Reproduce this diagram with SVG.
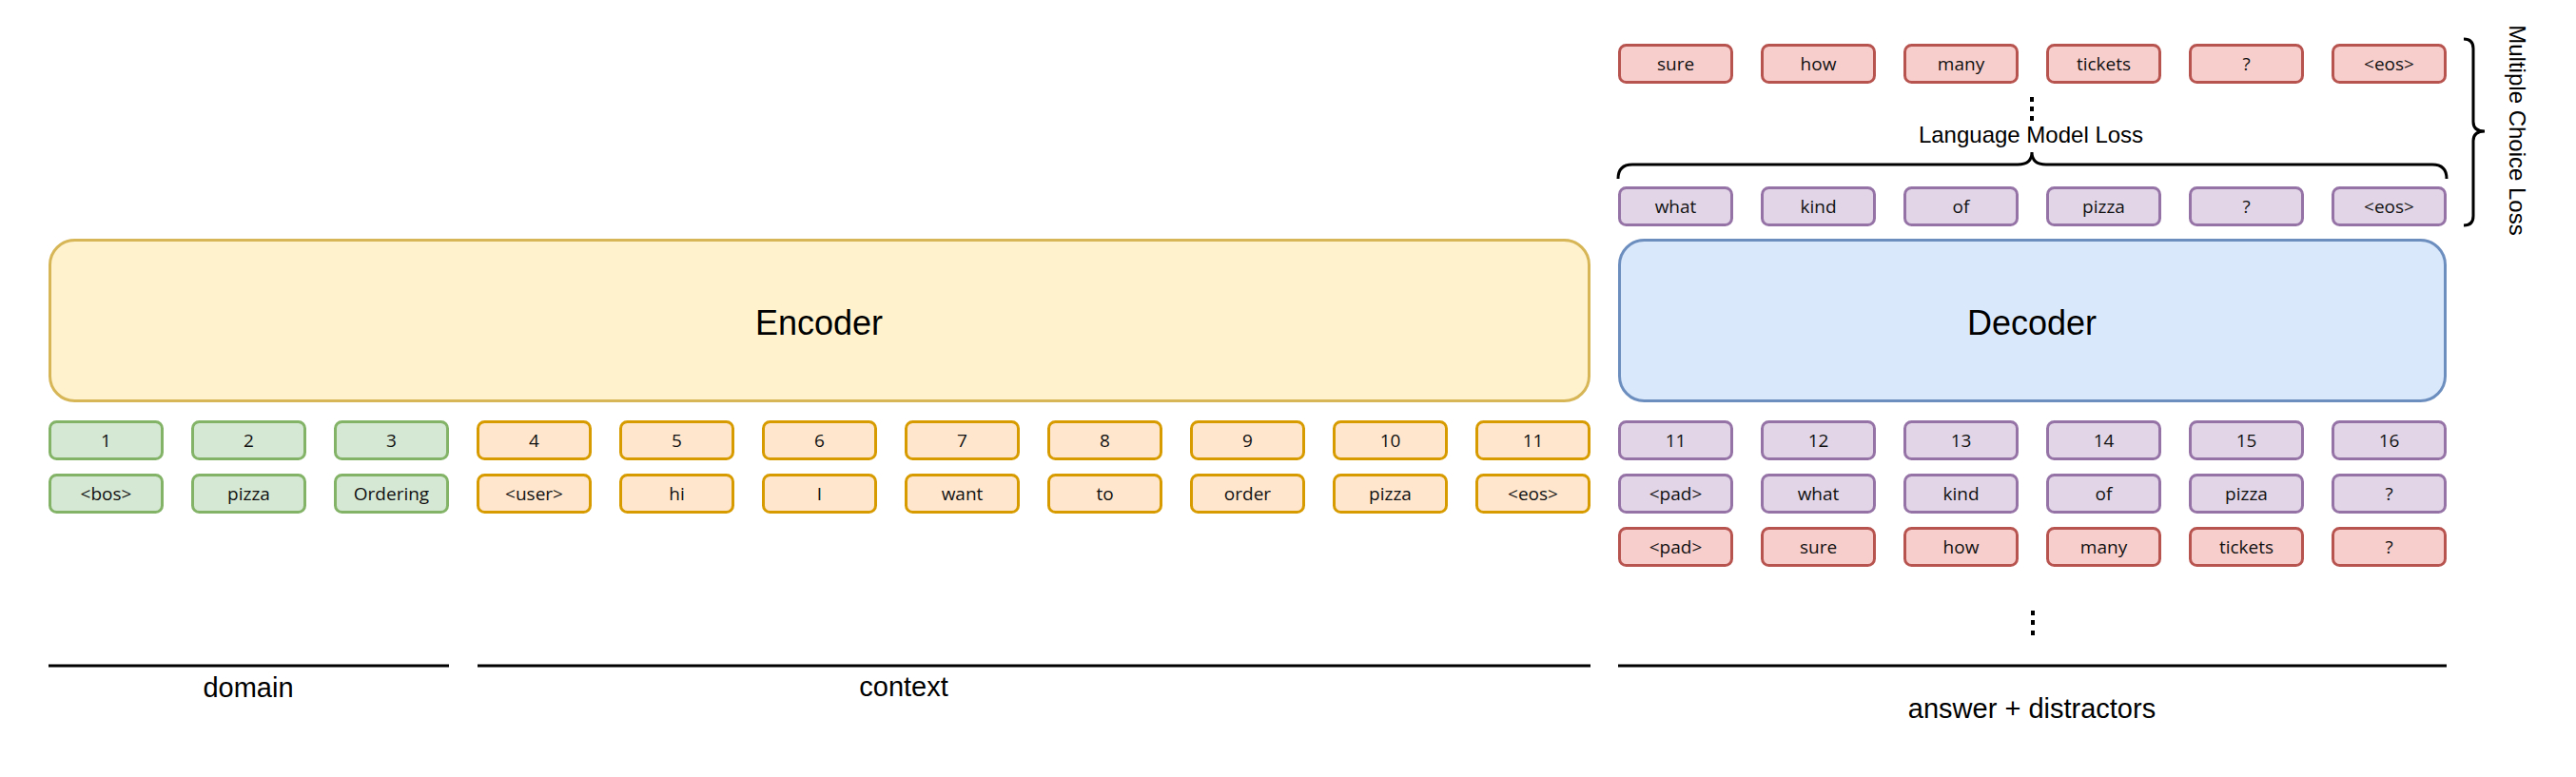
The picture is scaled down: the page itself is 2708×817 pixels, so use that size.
<svg xmlns="http://www.w3.org/2000/svg" width="2708" height="817" viewBox="0 0 2708 817">
<style>
.t{font-family:"Open Sans","DejaVu Sans",sans-serif;font-size:19px;fill:#111;text-anchor:middle}
.L{font-family:"Liberation Sans",Arial,sans-serif;fill:#000;text-anchor:middle}
.g{fill:#d5e8d4;stroke:#82b366;stroke-width:3}
.o{fill:#ffe6cc;stroke:#d79b00;stroke-width:3}
.p{fill:#e1d5e7;stroke:#9673a6;stroke-width:3}
.r{fill:#f8cecc;stroke:#b85450;stroke-width:3}
.ln{fill:none;stroke:#000;stroke-width:3}
</style>
<rect width="2708" height="817" fill="#fff"/>
<g id="encoder"><rect x="52.5" y="252.5" width="1618" height="169" rx="26" fill="#fff2cc" stroke="#d6b656" stroke-width="3"/><text class="L" x="861" y="352" font-size="36">Encoder</text></g>
<g id="decoder"><rect x="1702.5" y="252.5" width="868" height="169" rx="26" fill="#dae8fc" stroke="#6c8ebf" stroke-width="3"/><text class="L" x="2136" y="352" font-size="36">Decoder</text></g>

<g id="enc-pos">
<g id="e1"><rect class="g" x="52.5" y="443.5" width="118" height="39" rx="7"/><text class="t" x="111.5" y="470">1</text></g>
<g id="e2"><rect class="g" x="202.5" y="443.5" width="118" height="39" rx="7"/><text class="t" x="261.5" y="470">2</text></g>
<g id="e3"><rect class="g" x="352.5" y="443.5" width="118" height="39" rx="7"/><text class="t" x="411.5" y="470">3</text></g>
<g id="e4"><rect class="o" x="502.5" y="443.5" width="118" height="39" rx="7"/><text class="t" x="561.5" y="470">4</text></g>
<g id="e5"><rect class="o" x="652.5" y="443.5" width="118" height="39" rx="7"/><text class="t" x="711.5" y="470">5</text></g>
<g id="e6"><rect class="o" x="802.5" y="443.5" width="118" height="39" rx="7"/><text class="t" x="861.5" y="470">6</text></g>
<g id="e7"><rect class="o" x="952.5" y="443.5" width="118" height="39" rx="7"/><text class="t" x="1011.5" y="470">7</text></g>
<g id="e8"><rect class="o" x="1102.5" y="443.5" width="118" height="39" rx="7"/><text class="t" x="1161.5" y="470">8</text></g>
<g id="e9"><rect class="o" x="1252.5" y="443.5" width="118" height="39" rx="7"/><text class="t" x="1311.5" y="470">9</text></g>
<g id="e10"><rect class="o" x="1402.5" y="443.5" width="118" height="39" rx="7"/><text class="t" x="1461.5" y="470">10</text></g>
<g id="e11"><rect class="o" x="1552.5" y="443.5" width="118" height="39" rx="7"/><text class="t" x="1611.5" y="470">11</text></g>
</g>
<g id="enc-tok">
<g id="w1"><rect class="g" x="52.5" y="499.5" width="118" height="39" rx="7"/><text class="t" x="111.5" y="526">&lt;bos&gt;</text></g>
<g id="w2"><rect class="g" x="202.5" y="499.5" width="118" height="39" rx="7"/><text class="t" x="261.5" y="526">pizza</text></g>
<g id="w3"><rect class="g" x="352.5" y="499.5" width="118" height="39" rx="7"/><text class="t" x="411.5" y="526">Ordering</text></g>
<g id="w4"><rect class="o" x="502.5" y="499.5" width="118" height="39" rx="7"/><text class="t" x="561.5" y="526">&lt;user&gt;</text></g>
<g id="w5"><rect class="o" x="652.5" y="499.5" width="118" height="39" rx="7"/><text class="t" x="711.5" y="526">hi</text></g>
<g id="w6"><rect class="o" x="802.5" y="499.5" width="118" height="39" rx="7"/><text class="t" x="861.5" y="526">I</text></g>
<g id="w7"><rect class="o" x="952.5" y="499.5" width="118" height="39" rx="7"/><text class="t" x="1011.5" y="526">want</text></g>
<g id="w8"><rect class="o" x="1102.5" y="499.5" width="118" height="39" rx="7"/><text class="t" x="1161.5" y="526">to</text></g>
<g id="w9"><rect class="o" x="1252.5" y="499.5" width="118" height="39" rx="7"/><text class="t" x="1311.5" y="526">order</text></g>
<g id="w10"><rect class="o" x="1402.5" y="499.5" width="118" height="39" rx="7"/><text class="t" x="1461.5" y="526">pizza</text></g>
<g id="w11"><rect class="o" x="1552.5" y="499.5" width="118" height="39" rx="7"/><text class="t" x="1611.5" y="526">&lt;eos&gt;</text></g>
</g>

<g id="dec-pos">
<g id="d11"><rect class="p" x="1702.5" y="443.5" width="118" height="39" rx="7"/><text class="t" x="1761.5" y="470">11</text></g>
<g id="d12"><rect class="p" x="1852.5" y="443.5" width="118" height="39" rx="7"/><text class="t" x="1911.5" y="470">12</text></g>
<g id="d13"><rect class="p" x="2002.5" y="443.5" width="118" height="39" rx="7"/><text class="t" x="2061.5" y="470">13</text></g>
<g id="d14"><rect class="p" x="2152.5" y="443.5" width="118" height="39" rx="7"/><text class="t" x="2211.5" y="470">14</text></g>
<g id="d15"><rect class="p" x="2302.5" y="443.5" width="118" height="39" rx="7"/><text class="t" x="2361.5" y="470">15</text></g>
<g id="d16"><rect class="p" x="2452.5" y="443.5" width="118" height="39" rx="7"/><text class="t" x="2511.5" y="470">16</text></g>
</g>
<g id="dec-answer">
<g id="a1"><rect class="p" x="1702.5" y="499.5" width="118" height="39" rx="7"/><text class="t" x="1761.5" y="526">&lt;pad&gt;</text></g>
<g id="a2"><rect class="p" x="1852.5" y="499.5" width="118" height="39" rx="7"/><text class="t" x="1911.5" y="526">what</text></g>
<g id="a3"><rect class="p" x="2002.5" y="499.5" width="118" height="39" rx="7"/><text class="t" x="2061.5" y="526">kind</text></g>
<g id="a4"><rect class="p" x="2152.5" y="499.5" width="118" height="39" rx="7"/><text class="t" x="2211.5" y="526">of</text></g>
<g id="a5"><rect class="p" x="2302.5" y="499.5" width="118" height="39" rx="7"/><text class="t" x="2361.5" y="526">pizza</text></g>
<g id="a6"><rect class="p" x="2452.5" y="499.5" width="118" height="39" rx="7"/><text class="t" x="2511.5" y="526">?</text></g>
</g>
<g id="dec-distractor">
<g id="x1"><rect class="r" x="1702.5" y="555.5" width="118" height="39" rx="7"/><text class="t" x="1761.5" y="582">&lt;pad&gt;</text></g>
<g id="x2"><rect class="r" x="1852.5" y="555.5" width="118" height="39" rx="7"/><text class="t" x="1911.5" y="582">sure</text></g>
<g id="x3"><rect class="r" x="2002.5" y="555.5" width="118" height="39" rx="7"/><text class="t" x="2061.5" y="582">how</text></g>
<g id="x4"><rect class="r" x="2152.5" y="555.5" width="118" height="39" rx="7"/><text class="t" x="2211.5" y="582">many</text></g>
<g id="x5"><rect class="r" x="2302.5" y="555.5" width="118" height="39" rx="7"/><text class="t" x="2361.5" y="582">tickets</text></g>
<g id="x6"><rect class="r" x="2452.5" y="555.5" width="118" height="39" rx="7"/><text class="t" x="2511.5" y="582">?</text></g>
</g>

<g id="out-answer">
<g id="oa1"><rect class="p" x="1702.5" y="197.5" width="118" height="39" rx="7"/><text class="t" x="1761.5" y="224">what</text></g>
<g id="oa2"><rect class="p" x="1852.5" y="197.5" width="118" height="39" rx="7"/><text class="t" x="1911.5" y="224">kind</text></g>
<g id="oa3"><rect class="p" x="2002.5" y="197.5" width="118" height="39" rx="7"/><text class="t" x="2061.5" y="224">of</text></g>
<g id="oa4"><rect class="p" x="2152.5" y="197.5" width="118" height="39" rx="7"/><text class="t" x="2211.5" y="224">pizza</text></g>
<g id="oa5"><rect class="p" x="2302.5" y="197.5" width="118" height="39" rx="7"/><text class="t" x="2361.5" y="224">?</text></g>
<g id="oa6"><rect class="p" x="2452.5" y="197.5" width="118" height="39" rx="7"/><text class="t" x="2511.5" y="224">&lt;eos&gt;</text></g>
</g>
<g id="out-distractor">
<g id="od1"><rect class="r" x="1702.5" y="47.5" width="118" height="39" rx="7"/><text class="t" x="1761.5" y="74">sure</text></g>
<g id="od2"><rect class="r" x="1852.5" y="47.5" width="118" height="39" rx="7"/><text class="t" x="1911.5" y="74">how</text></g>
<g id="od3"><rect class="r" x="2002.5" y="47.5" width="118" height="39" rx="7"/><text class="t" x="2061.5" y="74">many</text></g>
<g id="od4"><rect class="r" x="2152.5" y="47.5" width="118" height="39" rx="7"/><text class="t" x="2211.5" y="74">tickets</text></g>
<g id="od5"><rect class="r" x="2302.5" y="47.5" width="118" height="39" rx="7"/><text class="t" x="2361.5" y="74">?</text></g>
<g id="od6"><rect class="r" x="2452.5" y="47.5" width="118" height="39" rx="7"/><text class="t" x="2511.5" y="74">&lt;eos&gt;</text></g>
</g>

<g id="connectors">
<path class="ln" d="M1701,188 Q1701,173 1716,173 L2121,173 Q2136,173 2136,160 Q2136,173 2151,173 L2557,173 Q2572,173 2572,188"/>
<path class="ln" d="M2590,41 Q2600,41 2600,51 L2600,128 Q2600,138 2612,138 Q2600,138 2600,148 L2600,227 Q2600,237 2590,237"/>
<line class="ln" x1="51" y1="700" x2="472" y2="700"/>
<line class="ln" x1="502" y1="700" x2="1672" y2="700"/>
<line class="ln" x1="1701" y1="700" x2="2572" y2="700"/>
<g fill="#000">
<rect x="2134" y="102" width="4" height="5"/><rect x="2134" y="112" width="4" height="5"/><rect x="2134" y="122" width="4" height="5"/>
<rect x="2135" y="642" width="4" height="5"/><rect x="2135" y="652" width="4" height="5"/><rect x="2135" y="663" width="4" height="5"/>
</g>
</g>

<g id="labels">
<text class="L" x="2135" y="150" font-size="24">Language Model Loss</text>
<text class="L" font-size="24" transform="translate(2638,137) rotate(90)">Multiple Choice Loss</text>
<text class="L" x="261" y="733" font-size="29">domain</text>
<text class="L" x="950" y="732" font-size="29">context</text>
<text class="L" x="2136" y="755" font-size="29">answer + distractors</text>
</g>
</svg>
